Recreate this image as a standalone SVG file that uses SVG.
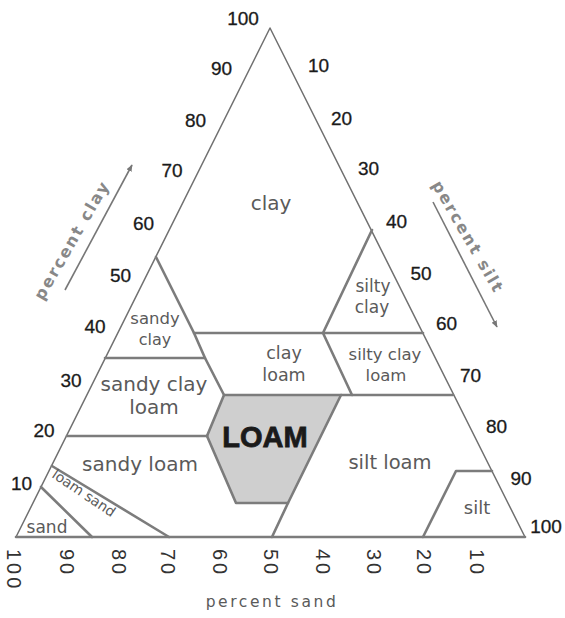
<svg xmlns="http://www.w3.org/2000/svg" width="565" height="618" viewBox="0 0 565 618">
  <style>
    .edge { fill: none; stroke: #707070; stroke-width: 1.5; stroke-linejoin: round; }
    .bnd { fill: none; stroke: #7c7c7c; stroke-width: 2.6; stroke-linejoin: round; stroke-linecap: round; }
    .tick { font-family: "Liberation Sans", Arial, sans-serif; font-size: 19px; fill: #1a1a1a; stroke: #1a1a1a; stroke-width: 0.3; text-anchor: middle; }
    .btick { font-family: "Liberation Sans", Arial, sans-serif; font-size: 20px; fill: #333333; dominant-baseline: central; letter-spacing: 3px; }
    .lbl { font-family: "DejaVu Sans", sans-serif; fill: #5a5a5a; text-anchor: middle; }
    .axis { font-family: "DejaVu Sans", sans-serif; font-weight: bold; font-size: 16px; fill: #888888; text-anchor: middle; dominant-baseline: central; letter-spacing: 2px; }
    .arrow { fill: none; stroke: #777777; stroke-width: 1.6; }
  </style>
  <defs>
    <marker id="ah" viewBox="0 0 10 10" refX="9" refY="5" markerWidth="7" markerHeight="7" orient="auto" markerUnits="userSpaceOnUse">
      <path d="M0,1 L10,5 L0,9 z" fill="#777777"/>
    </marker>
  </defs>
  <rect x="0" y="0" width="565" height="618" fill="#ffffff"/>

  <!-- loam shaded region -->
  <g id="loam">
    <polygon points="224,395 341,395 288,503 236,503 207,436" fill="#cfcfcf" stroke="none"/>
  </g>

  <!-- outer triangle -->
  <g id="triangle">
    <polyline class="edge" points="16,537 270,28 525,537"/>
  </g>

  <!-- region boundaries -->
  <g id="connectors">
    <line class="bnd" x1="16" y1="537" x2="525" y2="537"/>
    <polyline class="bnd" points="156,257 194,333 205,358 224,395 207,436"/>
    <line class="bnd" x1="194" y1="333" x2="423" y2="333"/>
    <line class="bnd" x1="105" y1="358" x2="205" y2="358"/>
    <line class="bnd" x1="67" y1="436" x2="207" y2="436"/>
    <polyline class="bnd" points="372,230 323,333 352,395"/>
    <line class="bnd" x1="224" y1="395" x2="453" y2="395"/>
    <polyline class="bnd" points="341,395 288,503 272,537"/>
    <polyline class="bnd" points="207,436 236,503 288,503"/>
    <line class="bnd" x1="52" y1="466" x2="169" y2="537"/>
    <line class="bnd" x1="41" y1="487" x2="92" y2="537"/>
    <polyline class="bnd" points="492,471 456,471 423,537"/>
  </g>

  <!-- region labels -->
  <g id="clay"><text class="lbl" x="271" y="210" font-size="20">clay</text></g>
  <g id="sandy-clay">
    <text class="lbl" x="155" y="324" font-size="16.5">sandy</text>
    <text class="lbl" x="155" y="345" font-size="16">clay</text>
  </g>
  <g id="sandy-clay-loam">
    <text class="lbl" x="154" y="391" font-size="20">sandy clay</text>
    <text class="lbl" x="154" y="414" font-size="20">loam</text>
  </g>
  <g id="sandy-loam"><text class="lbl" x="140" y="471" font-size="20">sandy loam</text></g>
  <g id="loamy-sand"><text class="lbl" x="0" y="0" font-size="14" dominant-baseline="central" transform="translate(84,493) rotate(34)">loam sand</text></g>
  <g id="sand"><text class="lbl" x="47" y="533" font-size="17">sand</text></g>
  <g id="clay-loam">
    <text class="lbl" x="284" y="359" font-size="17.5">clay</text>
    <text class="lbl" x="284" y="381" font-size="17.5">loam</text>
  </g>
  <g id="loam-label"><text x="265" y="447" font-family="'Liberation Sans', Arial, sans-serif" font-weight="bold" font-size="29" fill="#1a1a1a" stroke="#1a1a1a" stroke-width="0.8" text-anchor="middle">LOAM</text></g>
  <g id="silty-clay">
    <text class="lbl" x="373" y="292" font-size="17">silty</text>
    <text class="lbl" x="372" y="313" font-size="17">clay</text>
  </g>
  <g id="silty-clay-loam">
    <text class="lbl" x="385" y="360" font-size="16.5">silty clay</text>
    <text class="lbl" x="386" y="381" font-size="16.5">loam</text>
  </g>
  <g id="silt-loam"><text class="lbl" x="390" y="469" font-size="19.5">silt loam</text></g>
  <g id="silt"><text class="lbl" x="477" y="514" font-size="18">silt</text></g>

  <!-- clay ticks -->
  <g id="clay-ticks">
    <text class="tick" x="243" y="25">100</text>
    <text class="tick" x="221.5" y="75">90</text>
    <text class="tick" x="195.5" y="127">80</text>
    <text class="tick" x="172" y="177">70</text>
    <text class="tick" x="143.5" y="230">60</text>
    <text class="tick" x="120.5" y="282">50</text>
    <text class="tick" x="95" y="333">40</text>
    <text class="tick" x="71" y="387">30</text>
    <text class="tick" x="44" y="437">20</text>
    <text class="tick" x="21.5" y="490">10</text>
  </g>
  <!-- silt ticks -->
  <g id="silt-ticks">
    <text class="tick" x="318.5" y="72">10</text>
    <text class="tick" x="341.5" y="125">20</text>
    <text class="tick" x="368.5" y="175">30</text>
    <text class="tick" x="396.5" y="228">40</text>
    <text class="tick" x="421" y="280">50</text>
    <text class="tick" x="446.5" y="330">60</text>
    <text class="tick" x="470.5" y="382">70</text>
    <text class="tick" x="496.5" y="433">80</text>
    <text class="tick" x="521" y="485">90</text>
    <text class="tick" x="546" y="533">100</text>
  </g>
  <!-- sand ticks -->
  <g id="sand-ticks">
    <text class="btick" transform="translate(14,549) rotate(90)">100</text>
    <text class="btick" transform="translate(67,549) rotate(90)">90</text>
    <text class="btick" transform="translate(119,549) rotate(90)">80</text>
    <text class="btick" transform="translate(168,549) rotate(90)">70</text>
    <text class="btick" transform="translate(220,549) rotate(90)">60</text>
    <text class="btick" transform="translate(271,549) rotate(90)">50</text>
    <text class="btick" transform="translate(323,549) rotate(90)">40</text>
    <text class="btick" transform="translate(374,549) rotate(90)">30</text>
    <text class="btick" transform="translate(424,549) rotate(90)">20</text>
    <text class="btick" transform="translate(477,549) rotate(90)">10</text>
  </g>

  <!-- axis titles -->
  <g id="axis-clay">
    <text class="axis" transform="translate(72,240) rotate(-60)">percent clay</text>
    <line class="arrow" x1="65" y1="290" x2="132" y2="165" marker-end="url(#ah)"/>
  </g>
  <g id="axis-silt">
    <text class="axis" transform="translate(468,237) rotate(60)">percent silt</text>
    <line class="arrow" x1="433" y1="202" x2="497" y2="327" marker-end="url(#ah)"/>
  </g>
  <g id="axis-sand">
    <text x="272" y="607" font-family="'DejaVu Sans', sans-serif" font-size="15.5" fill="#5a5a5a" text-anchor="middle" letter-spacing="2.6">percent sand</text>
  </g>
</svg>
